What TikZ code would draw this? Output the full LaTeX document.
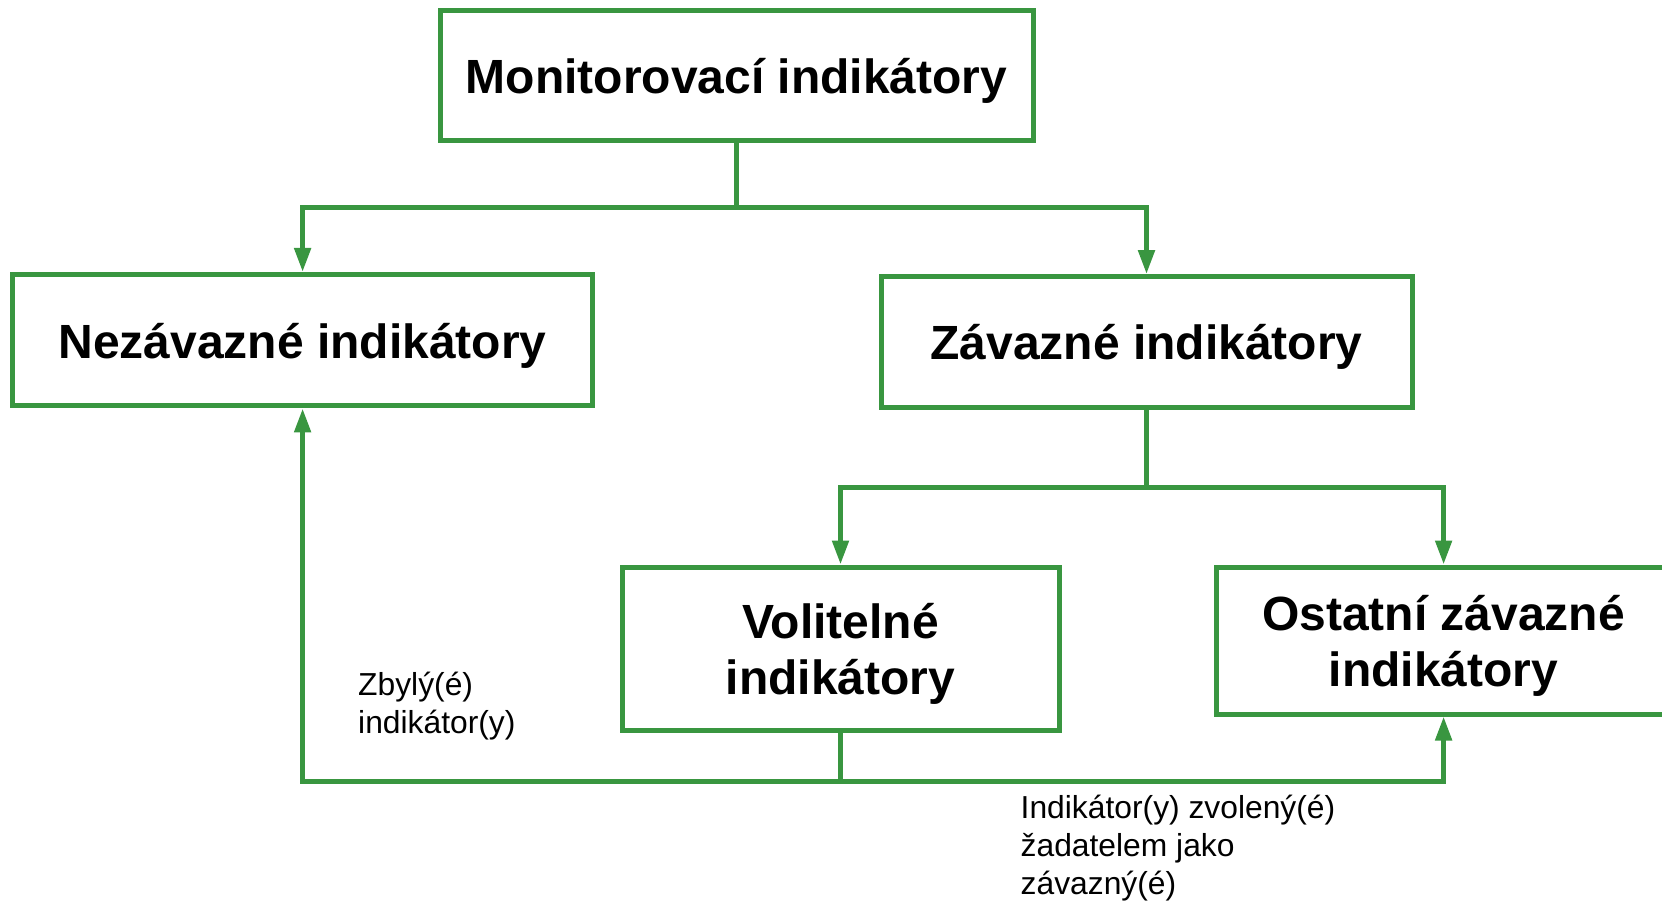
\documentclass[tikz,border=0pt]{standalone}
\usepackage{fontspec}
\setmainfont{Liberation Sans}
\usetikzlibrary{arrows.meta}
\definecolor{boxgreen}{RGB}{57,150,64}
\tikzset{
  box/.style={draw=boxgreen, line width=5pt, rectangle, inner sep=0pt, outer sep=2.5pt},
  boxtext/.style={align=center, inner sep=0pt, yshift=-5.5pt, font=\fontsize{48}{56}\selectfont\bfseries},
  conn/.style={draw=boxgreen, line width=5pt},
  arr/.style={conn, -{Triangle[length=24pt,width=16pt]}},
  lbl/.style={inner sep=0pt, align=left, anchor=west, font=\fontsize{31.8}{38}\selectfont}
}
\begin{document}
\begin{tikzpicture}[x=1pt,y=-1pt]
\useasboundingbox (0,0) rectangle (1662,901);
\clip (0,0) rectangle (1662,901);
\node[box, minimum width=593pt, minimum height=130pt, label={[boxtext]center:Monitorovací indikátory}] (top) at (736.6,75.8) {};
\node[box, minimum width=580pt, minimum height=131.5pt, label={[boxtext]center:Nezávazné indikátory}] (nez) at (302.6,340.2) {};
\node[box, minimum width=531pt, minimum height=130.4pt, label={[boxtext]center:Závazné indikátory}] (zav) at (1146.5,341.8) {};
\node[box, minimum width=437pt, minimum height=163pt, label={[boxtext]center:{Volitelné\\indikátory}}] (vol) at (840.5,648.5) {};
\node[box, minimum width=455pt, minimum height=147pt, label={[boxtext]center:{Ostatní závazné\\indikátory}}] (ost) at (1443.6,640.5) {};
\coordinate (j1) at (736.6,208);
\coordinate (j2) at (1146.5,487.6);
\coordinate (j3) at (840.5,781);
\draw[conn] (top.south) -- (j1);
\draw[arr] (j1) -| (nez.north);
\draw[arr] (j1) -| (zav.north);
\draw[conn] (zav.south) -- (j2);
\draw[arr] (j2) -| (vol.north);
\draw[arr] (j2) -| (ost.north);
\draw[conn] (vol.south) -- (j3);
\draw[arr] (j3) -| (nez.south);
\draw[arr] (j3) -| (ost.south);
\node[lbl] (l1) at (358,706) {Zbylý(é)\\indikátor(y)};
\node[lbl] (l2) at (1020.5,848) {Indikátor(y) zvolený(é)\\žadatelem jako\\závazný(é)};
\end{tikzpicture}
\end{document}
